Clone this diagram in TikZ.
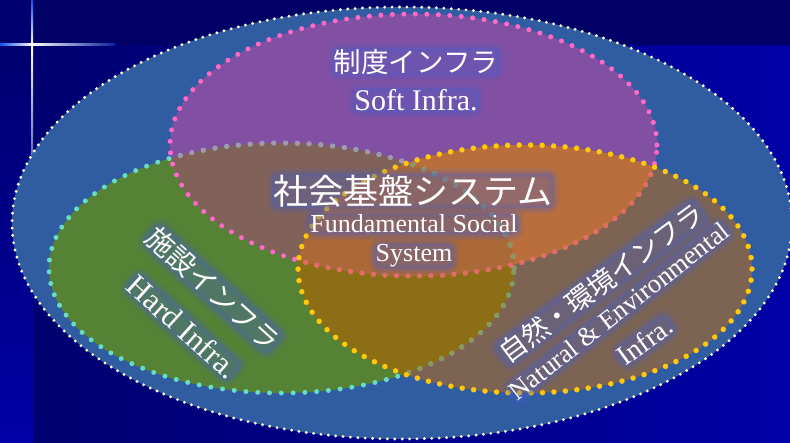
\documentclass[tikz,border=0pt]{standalone}
\usepackage{fontspec}
\setmainfont{Liberation Serif}
\newfontfamily\cjk{Noto Sans CJK JP}
\definecolor{bgtop}{RGB}{0,0,102}
\definecolor{bgdark}{RGB}{0,0,112}
\definecolor{bgbright}{RGB}{0,0,165}
\definecolor{sparkblue}{RGB}{20,80,235}
\definecolor{outerfill}{RGB}{48,92,162}
\definecolor{greenfill}{RGB}{85,130,52}
\definecolor{pinkfill}{RGB}{130,80,162}
\definecolor{yelfill}{RGB}{125,100,82}
\definecolor{pkgrfill}{RGB}{128,98,88}
\definecolor{pkyefill}{RGB}{185,110,60}
\definecolor{gryefill}{RGB}{140,110,22}
\definecolor{allfill}{RGB}{170,105,55}
\definecolor{outerdot}{RGB}{255,252,215}
\definecolor{pinkdot}{RGB}{255,105,200}
\definecolor{cyandot}{RGB}{105,220,200}
\definecolor{yeldot}{RGB}{255,200,10}
\definecolor{cyanfadeP}{RGB}{165,150,175}
\definecolor{cyanfadeY}{RGB}{140,150,95}
\definecolor{pinkfadeY}{RGB}{225,110,95}
\definecolor{glowc}{RGB}{70,95,205}
\tikzset{
  dotsline/.style args={#1/#2/#3}{draw=#1, line width=#2, line cap=round, dash pattern=on 0pt off #3},
  lbl/.style={text=white, inner sep=1.5pt, rounded corners=7pt,
    preaction={draw=glowc, draw opacity=0.10, line width=11pt},
    preaction={draw=glowc, draw opacity=0.14, line width=6pt},
    preaction={fill=glowc, fill opacity=0.32}},
  jp/.style={font=\cjk\fontsize{#1}{#1}\selectfont},
  en/.style={font=\fontsize{#1}{#1}\selectfont},
}
\def\Eo{(402,223) ellipse [x radius=390pt, y radius=216pt]}
\def\Ep{(413.5,145) ellipse [x radius=243.5pt, y radius=131pt]}
\def\Eg{(281.5,268) ellipse [x radius=232.5pt, y radius=125pt]}
\def\Ey{(525,269) ellipse [x radius=227pt, y radius=124pt]}
\begin{document}
\begin{tikzpicture}[x=1pt,y=-1pt]
\useasboundingbox (0,0) rectangle (790,443);
% background
\fill[bgdark] (0,0) rectangle (790,443);
\shade[left color=bgdark, right color=bgbright] (33,45) rectangle (790,443);
\shade[top color=bgdark, bottom color=bgbright] (0,45) rectangle (33,443);
\fill[bgtop] (33,0) rectangle (790,45);
% sparkle
\shade[left color=white, right color=sparkblue!40!bgtop] (32,44) rectangle (115,46);
\shade[left color=sparkblue, right color=white] (0,44) rectangle (32,46);
\shade[top color=sparkblue, bottom color=white] (31,0) rectangle (33,45);
\shade[top color=white, bottom color=sparkblue!30!bgdark] (31,45) rectangle (33,220);
\fill[white] (32,45) circle (1.6pt);
% region fills
\fill[outerfill] \Eo;
\fill[greenfill] \Eg;
\fill[pinkfill] \Ep;
\fill[yelfill] \Ey;
\begin{scope}
  \clip \Ep;
  \fill[pkgrfill] \Eg;
  \fill[pkyefill] \Ey;
\end{scope}
\begin{scope}
  \clip \Eg;
  \fill[gryefill] \Ey;
\end{scope}
\begin{scope}
  \clip \Ep;
  \clip \Eg;
  \fill[allfill] \Ey;
\end{scope}
% dotted borders
\draw[dotsline=outerdot/3.2pt/7.4pt] \Eo;
\draw[dotsline=cyandot/5pt/11.8pt] \Eg;
\begin{scope}
  \clip \Ep;
  \draw[dotsline=cyanfadeP/5pt/11.8pt] \Eg;
\end{scope}
\begin{scope}
  \clip \Ey;
  \draw[dotsline=cyanfadeY/5pt/11.8pt] \Eg;
\end{scope}
\draw[dotsline=pinkdot/5pt/11.5pt] \Ep;
\begin{scope}
  \clip \Ey;
  \draw[dotsline=pinkfadeY/5pt/11.5pt] \Ep;
\end{scope}
\draw[dotsline=yeldot/5.5pt/11.5pt] \Ey;
% labels
\node[lbl, jp=27.5] (softjp) at (416,62) {制度インフラ};
\node[lbl, en=30, anchor=base] (soften) at (416,111) {Soft Infra.};
\node[lbl, jp=35] (fundjp) at (413,191) {社会基盤システム};
\node[lbl, en=26, anchor=base] (funden) at (414,233) {Fundamental Social};
\node[lbl, en=26, anchor=base] (fundsys) at (414,262) {System};
\node[lbl, jp=28, rotate=-42] (hardjp) at (213,289) {施設インフラ};
\node[lbl, en=31, rotate=-42] (harden) at (183,327) {Hard Infra.};
\node[lbl, jp=27.5, rotate=36.5] (natjp) at (601,283) {自然・環境インフラ};
\node[lbl, en=26.5, rotate=38] (naten) at (619,311) {Natural \& Environmental};
\node[lbl, en=28, rotate=36] (natinfra) at (645,341) {Infra.};
\end{tikzpicture}
\end{document}
